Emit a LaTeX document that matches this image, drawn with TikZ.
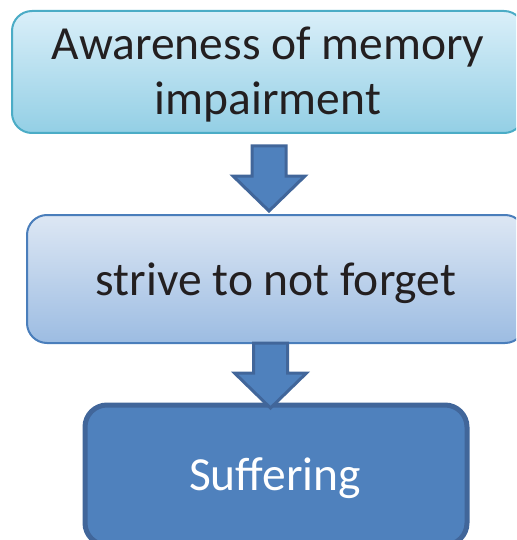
\documentclass[tikz,border=0pt]{standalone}
\usepackage{fontspec}
\setmainfont{Carlito}
\usetikzlibrary{calc}
\definecolor{tealB}{HTML}{4BACC6}
\definecolor{tealTop}{HTML}{DAEFF9}
\definecolor{tealBot}{HTML}{93CFE5}
\definecolor{blueB}{HTML}{4A7EBB}
\definecolor{blueTop}{HTML}{DDE7F4}
\definecolor{blueBot}{HTML}{9CBCE2}
\definecolor{accent}{HTML}{4F81BD}
\definecolor{accentD}{HTML}{41669A}
\definecolor{ink}{HTML}{231F20}
\tikzset{
  boxa/.style={draw=tealB, line width=2pt, rounded corners=20pt, top color=tealTop, bottom color=tealBot, inner sep=0pt},
  boxb/.style={draw=blueB, line width=2pt, rounded corners=20pt, top color=blueTop, bottom color=blueBot, inner sep=0pt},
  boxc/.style={draw=accentD, line width=5pt, rounded corners=22pt, fill=accent, inner sep=0pt},
  lbl/.style={font=\fontsize{47.5}{55}\selectfont, text=ink, anchor=base, inner sep=0pt},
  blockarr/.pic={\draw[fill=accent, draw=accentD, line width=3pt, line join=miter]
     (-17,0) -- (17,0) -- (17,30) -- (36,30) -- (0,65) -- (-36,30) -- (-17,30) -- cycle;}
}
\begin{document}
\begin{tikzpicture}[x=1pt,y=-1pt]
\useasboundingbox (0,0) rectangle (516,540);
\clip (0,0) rectangle (516,540);
\node[boxa, minimum width=512pt, minimum height=122pt] (aw) at (268,72) {};
\node[lbl] (aw1) at (268,60) {Awareness of memory};
\node[lbl] (aw2) at (268,115) {impairment};
\node[boxb, minimum width=498pt, minimum height=128pt] (st) at (276,279) {};
\node[lbl] (st1) at (276,295) {strive to not forget};
\node[boxc, minimum width=382pt, minimum height=140pt] (su) at (276,475) {};
\node[lbl, text=white] (su1) at (275,490) {Suffering};
\coordinate (a1) at ($(aw.south)+(1,12)$);
\coordinate (a2) at ($(st.south)+(-5.5,-1)$);
\pic at (a1) {blockarr};
\pic at (a2) {blockarr};
\end{tikzpicture}
\end{document}
